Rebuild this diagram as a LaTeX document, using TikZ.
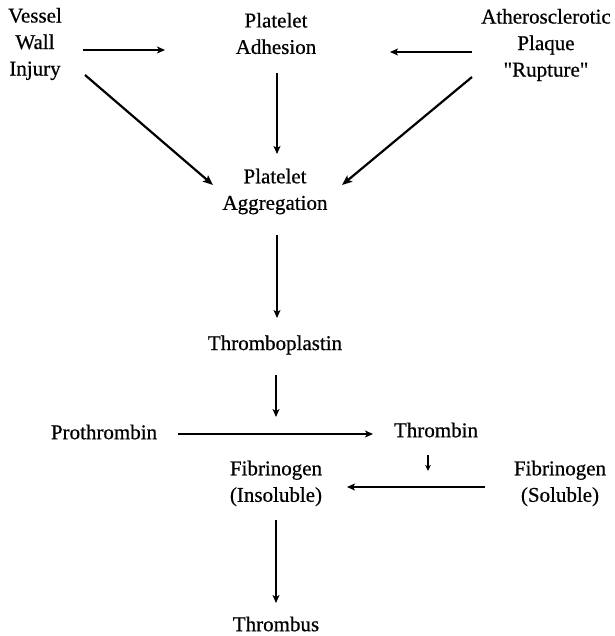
\documentclass[tikz,border=0pt]{standalone}
\usepackage{fontspec}
\setmainfont{Liberation Serif}[FakeBold=0.6,Ligatures=TeXOff]
\usetikzlibrary{calc,arrows.meta}
\tikzset{
  lbl/.style={align=center,inner sep=0pt,font=\fontsize{21}{26.5}\selectfont},
  arr/.style={line width=1.5pt,-{Stealth[length=8pt,width=7pt,inset=2pt]}},
  thick arr/.style={line width=2.2pt,-{Stealth[length=10pt,width=8pt,inset=2pt]}},
  small arr/.style={line width=1.4pt,-{Stealth[length=6pt,width=5.5pt,inset=1.5pt]}}
}
\begin{document}
\begin{tikzpicture}[x=1pt,y=-1pt]
\useasboundingbox (0,0) rectangle (614,636);
\node[lbl] (vw) at (35,44) {Vessel\\Wall\\Injury};
\node[lbl] (pa) at (276,33.5) {Platelet\\Adhesion};
\node[lbl] (rup) at (546,45) {Atherosclerotic\\Plaque\\"Rupture"};
\node[lbl] (pg) at (275,191.5) {Platelet\\Aggregation};
\node[lbl] (tp) at (275,345) {Thromboplastin};
\node[lbl] (pt) at (104,432) {Prothrombin};
\node[lbl] (th) at (436,430) {Thrombin};
\node[lbl] (fi) at (276,483.5) {Fibrinogen\\(Insoluble)};
\node[lbl] (fs) at (560,483.5) {Fibrinogen\\(Soluble)};
\node[lbl] (tb) at (276,624) {Thrombus};
\coordinate (rx) at ($(tp.center)+(1,72)$);
\coordinate (tx) at ($(th.center)+(-8,41)$);
\draw[arr] ($(vw.center)+(48,6)$) -- ($(pa.center)+(-111,16.5)$);
\draw[arr] ($(rup.center)+(-74,7)$) -- ($(pa.center)+(114,18.5)$);
\draw[arr] ($(pa.center)+(1,39.5)$) -- ($(pg.center)+(2,-37.5)$);
\draw[thick arr] ($(vw.center)+(50,31)$) -- ($(pg.center)+(-62,-6.5)$);
\draw[thick arr] ($(rup.center)+(-74,32)$) -- ($(pg.center)+(67,-6.5)$);
\draw[arr] ($(pg.center)+(2,43.5)$) -- ($(tp.center)+(2,-27)$);
\draw[arr] ($(tp.center)+(1,30)$) -- (rx);
\draw[arr] ($(pt.center)+(74,2)$) -- ($(th.center)+(-63,4)$);
\draw[small arr] ($(th.center)+(-8,25)$) -- (tx);
\draw[arr] ($(fs.center)+(-75,3.5)$) -- ($(fi.center)+(71,3.5)$);
\draw[arr] ($(fi.center)+(0,36.5)$) -- ($(tb.center)+(0,-21)$);
\end{tikzpicture}
\end{document}
